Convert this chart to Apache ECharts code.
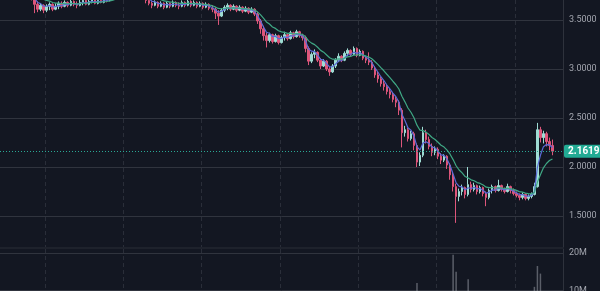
<!DOCTYPE html>
<html>
<head>
<meta charset="utf-8">
<script src="https://cdn.jsdelivr.net/npm/echarts@6/dist/echarts.min.js"></script>
<style>
  html, body { margin: 0; padding: 0; background: #131722; }
  #chart { width: 600px; height: 291px; }
</style>
</head>
<body>
<div id="chart"></div>
<script>
// Daily bars: [open, close, low, high]
const ohlc = [
  [3.84,3.86,3.82,3.88],[3.86,3.84,3.82,3.88],[3.84,3.88,3.83,3.90],[3.88,3.85,3.83,3.89],[3.85,3.82,3.80,3.86],
  [3.82,3.84,3.81,3.86],[3.84,3.80,3.78,3.85],[3.80,3.78,3.76,3.81],[3.78,3.79,3.76,3.81],[3.79,3.76,3.74,3.80],
  [3.76,3.74,3.70,3.77],[3.74,3.66,3.57,3.75],[3.66,3.61,3.58,3.69],[3.61,3.65,3.59,3.67],[3.65,3.60,3.57,3.66],
  [3.60,3.64,3.58,3.66],[3.64,3.66,3.60,3.68],[3.66,3.61,3.59,3.67],[3.61,3.64,3.60,3.67],[3.64,3.67,3.61,3.69],
  [3.67,3.64,3.62,3.69],[3.64,3.68,3.63,3.70],[3.68,3.65,3.63,3.69],[3.65,3.69,3.64,3.71],[3.69,3.66,3.64,3.70],
  [3.66,3.65,3.62,3.69],[3.65,3.68,3.64,3.71],[3.68,3.70,3.65,3.72],[3.70,3.66,3.65,3.71],[3.66,3.69,3.65,3.72],
  [3.69,3.71,3.67,3.73],[3.71,3.67,3.66,3.72],[3.67,3.70,3.66,3.73],[3.70,3.68,3.67,3.73],[3.68,3.71,3.67,3.74],
  [3.71,3.70,3.68,3.74],[3.70,3.72,3.69,3.75],[3.72,3.74,3.71,3.76],[3.74,3.78,3.73,3.80],[3.78,3.82,3.77,3.84],
  [3.82,3.85,3.80,3.87],[3.85,3.88,3.84,3.90],[3.88,3.86,3.84,3.89],[3.86,3.84,3.82,3.87],[3.84,3.83,3.81,3.86],
  [3.83,3.80,3.78,3.84],[3.80,3.78,3.76,3.81],[3.78,3.75,3.73,3.79],[3.75,3.70,3.67,3.76],[3.70,3.67,3.65,3.72],
  [3.67,3.65,3.62,3.69],[3.65,3.68,3.64,3.70],[3.68,3.64,3.62,3.69],[3.64,3.67,3.63,3.69],[3.67,3.63,3.61,3.68],
  [3.63,3.67,3.62,3.69],[3.67,3.64,3.62,3.68],[3.64,3.68,3.63,3.70],[3.68,3.65,3.63,3.69],[3.65,3.64,3.61,3.68],
  [3.64,3.68,3.63,3.70],[3.68,3.65,3.63,3.69],[3.65,3.69,3.64,3.71],[3.69,3.65,3.63,3.70],[3.65,3.68,3.64,3.70],
  [3.68,3.64,3.62,3.69],[3.64,3.67,3.63,3.69],[3.67,3.63,3.61,3.68],[3.63,3.66,3.62,3.68],[3.66,3.62,3.60,3.67],
  [3.62,3.61,3.58,3.65],[3.61,3.57,3.51,3.63],[3.57,3.54,3.45,3.60],[3.54,3.60,3.53,3.62],[3.60,3.63,3.58,3.65],
  [3.63,3.65,3.60,3.67],[3.65,3.61,3.59,3.66],[3.61,3.64,3.60,3.66],[3.64,3.60,3.58,3.65],[3.60,3.63,3.59,3.65],
  [3.63,3.59,3.57,3.64],[3.59,3.62,3.58,3.64],[3.62,3.58,3.56,3.63],[3.58,3.61,3.57,3.63],[3.61,3.56,3.54,3.62],
  [3.56,3.49,3.46,3.58],[3.49,3.41,3.36,3.51],[3.41,3.34,3.29,3.44],[3.34,3.29,3.22,3.37],[3.29,3.35,3.27,3.37],
  [3.35,3.28,3.26,3.36],[3.28,3.34,3.27,3.36],[3.34,3.27,3.25,3.35],[3.27,3.32,3.26,3.34],[3.32,3.35,3.29,3.38],
  [3.35,3.31,3.29,3.36],[3.31,3.37,3.30,3.39],[3.37,3.33,3.31,3.38],[3.33,3.38,3.32,3.40],[3.38,3.34,3.32,3.39],
  [3.34,3.32,3.29,3.36],[3.32,3.21,3.17,3.34],[3.21,3.08,3.04,3.23],[3.08,3.15,3.06,3.17],[3.15,3.17,3.11,3.20],
  [3.17,3.09,3.07,3.18],[3.09,3.03,3.00,3.11],[3.03,3.08,3.02,3.10],[3.08,3.00,2.98,3.09],[3.00,2.97,2.93,3.02],
  [2.97,3.03,2.96,3.05],[3.03,3.09,3.01,3.11],[3.09,3.13,3.07,3.16],[3.13,3.09,3.07,3.14],[3.09,3.16,3.08,3.18],
  [3.16,3.19,3.13,3.21],[3.19,3.15,3.13,3.20],[3.15,3.21,3.14,3.23],[3.21,3.14,3.12,3.22],[3.14,3.18,3.13,3.20],
  [3.18,3.11,3.09,3.19],[3.11,3.09,3.06,3.13],[3.09,3.07,3.04,3.17],[3.07,3.01,2.99,3.09],[3.01,2.94,2.91,3.03],
  [2.94,2.90,2.86,2.97],[2.90,2.85,2.82,2.92],[2.85,2.82,2.78,2.88],[2.82,2.77,2.74,2.84],[2.77,2.74,2.70,2.80],
  [2.74,2.69,2.66,2.76],[2.69,2.66,2.61,2.72],[2.66,2.58,2.53,2.68],[2.58,2.35,2.20,2.60],[2.35,2.38,2.31,2.42],
  [2.38,2.29,2.26,2.40],[2.29,2.34,2.27,2.37],[2.34,2.22,2.17,2.36],[2.22,2.05,2.00,2.24],[2.05,2.12,2.01,2.15],
  [2.12,2.35,2.10,2.41],[2.35,2.28,2.24,2.38],[2.28,2.21,2.18,2.31],[2.21,2.15,2.11,2.24],[2.15,2.18,2.12,2.21],
  [2.18,2.11,2.08,2.20],[2.11,2.07,2.03,2.14],[2.07,2.11,2.05,2.13],[2.11,2.02,1.98,2.12],[2.02,1.92,1.87,2.04],
  [1.92,1.80,1.75,1.94],[1.80,1.70,1.43,1.83],[1.70,1.75,1.65,1.78],[1.75,1.79,1.71,1.82],[1.79,1.72,1.68,1.80],
  [1.72,1.82,1.70,2.00],[1.82,1.77,1.74,1.85],[1.77,1.81,1.75,1.84],[1.81,1.75,1.72,1.82],[1.75,1.79,1.73,1.81],
  [1.79,1.73,1.70,1.80],[1.73,1.69,1.60,1.75],[1.69,1.76,1.67,1.78],[1.76,1.80,1.73,1.82],[1.80,1.76,1.74,1.81],
  [1.76,1.81,1.75,1.87],[1.81,1.77,1.75,1.82],[1.77,1.75,1.73,1.79],[1.75,1.80,1.74,1.83],[1.80,1.76,1.73,1.81],
  [1.76,1.73,1.71,1.78],[1.73,1.71,1.69,1.75],[1.71,1.69,1.66,1.73],[1.69,1.72,1.67,1.74],[1.72,1.68,1.66,1.73],
  [1.68,1.70,1.66,1.72],[1.70,1.72,1.68,1.74],[1.72,1.80,1.71,1.84],[1.80,2.38,1.79,2.45],[2.38,2.30,2.25,2.41],
  [2.30,2.34,2.24,2.37],[2.34,2.26,2.21,2.36],[2.26,2.22,2.17,2.30],[2.22,2.1619,2.12,2.28]
];

// Traded volume per bar, in millions
const volumes = [
  4.2,3.8,5.1,4.6,3.9,4.4,5.0,4.1,3.6,4.8,
  6.2,7.4,5.3,4.7,5.8,4.2,3.9,4.5,3.7,4.1,
  3.5,4.0,3.8,3.3,4.2,3.6,3.9,4.4,3.2,3.7,
  4.1,3.5,3.8,4.3,4.9,5.6,6.1,7.2,6.8,5.9,
  6.4,7.1,5.8,5.2,4.9,5.5,4.6,5.1,6.3,5.4,
  4.3,3.9,4.1,3.6,3.8,4.2,3.4,3.7,3.9,3.3,
  3.6,3.8,4.0,3.5,3.7,3.2,3.9,4.1,3.8,4.4,
  5.2,7.8,8.6,6.1,4.8,4.2,3.9,3.6,3.8,3.5,
  3.7,3.4,3.9,4.1,4.6,6.8,7.9,8.3,8.9,6.2,
  5.1,4.6,4.9,4.3,4.7,4.1,4.5,3.9,4.2,3.8,
  4.4,7.1,8.2,6.0,5.2,5.8,6.5,5.1,6.3,7.0,
  5.9,6.2,5.4,4.8,5.1,5.6,4.9,5.3,5.7,4.6,
  4.9,4.4,6.8,5.9,6.7,6.1,5.8,6.4,6.0,5.7,
  6.2,6.6,7.3,9.4,7.1,6.5,6.9,7.8,12.0,8.1,
  9.2,7.4,6.8,6.3,5.7,6.0,5.9,6.6,7.7,9.1,
  19.5,15.0,8.4,6.9,7.2,13.0,7.5,6.3,5.8,6.1,
  5.6,8.8,6.2,5.4,5.9,6.7,5.5,5.2,5.8,5.3,
  4.9,5.1,4.7,4.4,4.8,4.6,5.2,11.0,16.5,14.5,
  9.6,8.3,7.4,6.8
];

// Price and volume scale tick values
const priceTicks = [1.5, 2.0, 2.5, 3.0, 3.5];
const volumeTicks = [10, 20];

// Empty slots to the right of the last bar
const rightPadding = 3;
const categories = [];
for (let i = 0; i < ohlc.length + rightPadding; i++) categories.push('Bar ' + (i + 1));

const closes = ohlc.map(r => r[1]);
const lastClose = closes[closes.length - 1];

// Exponential moving average of the closing prices
function ema(values, period) {
  const k = 2 / (period + 1);
  let prev = values[0];
  return values.map((v, i) => (prev = i === 0 ? v : prev + k * (v - prev)));
}
const fastAverage = ema(closes, 4);
const slowAverage = ema(closes, 11);

// vertical guides every 26 bars
const verticalGuide = (index) => index >= 15 && (index - 15) % 26 === 0;

const axisText = { color: '#a3a6af', fontSize: 9, fontFamily: 'Roboto, sans-serif' };
const gridLine = { color: '#30343e', width: 1 };

const chart = echarts.init(document.getElementById('chart'), null, { renderer: 'canvas' });
chart.setOption({
  backgroundColor: '#131722',
  animation: false,
  textStyle: { fontFamily: 'Roboto, sans-serif' },
  grid: [
    { left: 0, right: 37, top: 0, height: 248, outerBoundsMode: 'none' },
    // only the upper part of the volume pane is in view (10M at the bottom edge)
    { left: 0, right: 37, top: 249, height: 42, outerBoundsMode: 'none' }
  ],
  xAxis: [
    {
      type: 'category', gridIndex: 0, data: categories, boundaryGap: true,
      axisLine: { show: true, lineStyle: { color: '#1e222c', width: 2 } },
      axisTick: { show: false }, axisLabel: { show: false },
      splitLine: { show: true, interval: verticalGuide, lineStyle: { color: '#2a2e39', type: [4, 3] } }
    },
    {
      type: 'category', gridIndex: 1, data: categories, boundaryGap: true,
      axisLine: { show: false }, axisTick: { show: false }, axisLabel: { show: false },
      splitLine: { show: true, interval: verticalGuide, lineStyle: { color: '#2a2e39', type: [4, 3] } }
    }
  ],
  yAxis: [
    {
      type: 'value', gridIndex: 0, position: 'right',
      min: 1.17347, max: 3.70408,
      axisLine: { show: true, lineStyle: { color: '#2e323c' } },
      axisTick: { show: false, customValues: priceTicks },
      axisLabel: Object.assign({ customValues: priceTicks, margin: 6, formatter: v => v.toFixed(4) }, axisText),
      splitLine: { show: true, lineStyle: gridLine }
    },
    {
      type: 'value', gridIndex: 1, position: 'right',
      min: 9.9, max: 21,
      axisLine: { show: true, lineStyle: { color: '#2e323c' } },
      axisTick: { show: false, customValues: volumeTicks },
      axisLabel: Object.assign({
        customValues: volumeTicks, margin: 6, formatter: v => v + 'M',
        verticalAlign: 'middle', verticalAlignMinLabel: 'middle', verticalAlignMaxLabel: 'middle'
      }, axisText),
      splitLine: { show: true, lineStyle: gridLine }
    }
  ],
  series: [
    {
      name: 'Price', type: 'candlestick', xAxisIndex: 0, yAxisIndex: 0,
      data: ohlc, barWidth: 2, clip: true,
      itemStyle: {
        color: '#9fdcd4', color0: '#de567b',
        borderColor: '#9fdcd4', borderColor0: '#de567b', borderWidth: 1
      },
      markLine: {
        silent: true, symbol: ['none', 'none'], animation: false, precision: 4,
        data: [{ yAxis: lastClose }],
        lineStyle: { color: '#2aa895', type: [1, 2], width: 1 },
        label: {
          position: 'end', distance: 1,
          formatter: p => Number(p.value).toFixed(4),
          backgroundColor: '#22ab94', color: '#ffffff', fontWeight: 'bold',
          fontSize: 10, padding: [2, 4, 1, 4], borderRadius: 2
        }
      }
    },
    {
      name: 'Fast average', type: 'line', xAxisIndex: 0, yAxisIndex: 0,
      data: fastAverage, showSymbol: false, clip: true,
      lineStyle: { color: '#5b6bd6', width: 1.2 }
    },
    {
      name: 'Slow average', type: 'line', xAxisIndex: 0, yAxisIndex: 0,
      data: slowAverage, showSymbol: false, clip: true,
      lineStyle: { color: '#3fa784', width: 1.2 }
    },
    {
      name: 'Volume', type: 'bar', xAxisIndex: 1, yAxisIndex: 1,
      data: volumes, barWidth: 1.5, clip: true,
      itemStyle: { color: 'rgba(150,153,163,0.55)' }
    }
  ]
});
</script>
</body>
</html>
